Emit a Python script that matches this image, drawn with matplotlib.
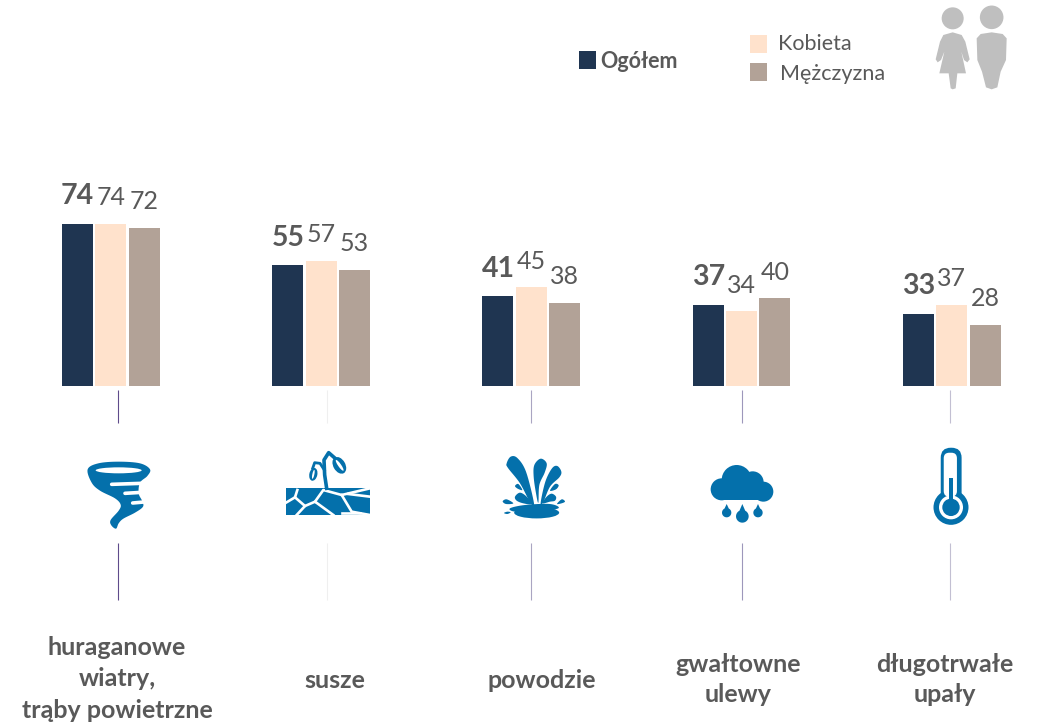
import numpy as np
import matplotlib
matplotlib.use("Agg")
import matplotlib.pyplot as plt
from matplotlib.patches import Polygon, Circle, Ellipse, Rectangle, FancyBboxPatch

plt.rcParams['font.family'] = ['Lato', 'DejaVu Sans']

categories = ["huraganowe\nwiatry,\ntrąby powietrzne", "susze", "powodzie", "gwałtowne\nulewy", "długotrwałe\nupały"]
ogolem = [74, 55, 41, 37, 33]
kobieta = [74, 57, 45, 34, 37]
mezczyzna = [72, 53, 38, 40, 28]

NAVY, PEACH, TAUPE = "#1f3551", "#ffe2cc", "#b2a297"
TXT = "#595959"
BLUE = "#0470ab"
GREY = "#bfbfbf"
W, H = 1038, 724

fig = plt.figure(figsize=(W/100, H/100), dpi=100, facecolor="white")

# --- bars
PITCH = 210.2
C0 = 111.0
PX_UNIT = 2.195
BASE = 386
TOP = 100
ax = fig.add_axes([0, 1-BASE/H, 1, (BASE-TOP)/H])
ax.set_xlim(-C0/PITCH, (W-C0)/PITCH)
ax.set_ylim(0, (BASE-TOP)/PX_UNIT)
ax.axis("off")
x = np.arange(len(categories))
bw, off = 31/PITCH, 33.4/PITCH
for series, dx, col, bold in [(ogolem, -off, NAVY, True), (kobieta, 0, PEACH, False), (mezczyzna, off, TAUPE, False)]:
    ax.bar(x+dx, series, bw, color=col)
    for xi, v in zip(x, series):
        ax.annotate(str(v), (xi+dx, v), xytext=(0, 27.5 if bold else 26), textcoords="offset pixels",
                    ha="center", va="center", color=TXT,
                    fontsize=20.5 if bold else 18, fontweight="bold" if bold else "normal")

# --- overlay in pixel coordinates
ov = fig.add_axes([0, 0, 1, 1], zorder=3)
ov.set_xlim(0, W); ov.set_ylim(H, 0); ov.axis("off"); ov.patch.set_alpha(0)

# connector lines
for lx, col in zip([118.3, 326.5, 531.3, 741.5, 949.5], ["#5f4b8b", "#efefef", "#aaa5c2", "#9d97bb", "#c2bfd2"]):
    ov.plot([lx, lx], [390, 423], color=col, lw=0.8, solid_capstyle="butt")
    ov.plot([lx, lx], [543, 600], color=col, lw=0.8, solid_capstyle="butt")

# category labels
label_xy = [(117, 679), (335, 680), (542, 680), (738, 679.5), (945, 679.5)]
for (lx, ly), c in zip(label_xy, categories):
    lines = c.split("\n")
    for i, s in enumerate(lines):
        ov.text(lx, ly+(i-(len(lines)-1)/2)*(31.5 if len(lines) == 3 else 31), s, ha="center", va="center",
                color=TXT, fontsize=18, fontweight="bold")

# legend
ov.add_patch(Rectangle((579, 51), 17, 18, color=NAVY, lw=0))
ov.add_patch(Rectangle((750, 35), 17, 18, color=PEACH, lw=0))
ov.add_patch(Rectangle((750, 63), 17, 18, color=TAUPE, lw=0))
ov.text(600, 62, "Ogółem", va="center", color=TXT, fontsize=15.5, fontweight="bold")
ov.text(778, 44.5, "Kobieta", va="center", color=TXT, fontsize=15.5)
ov.text(780, 74, "Mężczyzna", va="center", color=TXT, fontsize=15.5)


def smooth(pts, n=8):
    """closed Catmull-Rom outline through the given points"""
    p = np.asarray(pts, float)
    out = []
    for i in range(len(p)):
        p0, p1, p2, p3 = p[i-1], p[i], p[(i+1) % len(p)], p[(i+2) % len(p)]
        for t in np.linspace(0, 1, n, endpoint=False):
            out.append(0.5*((2*p1)+(p2-p0)*t+(2*p0-5*p1+4*p2-p3)*t**2+(3*p1-p0-3*p2+p3)*t**3))
    return np.array(out)


def zmap(ox, oy):
    return lambda pts: np.asarray(pts, float)/3+np.array([ox, oy])


def blob(f, pts, col=BLUE, sm=True):
    q = f(smooth(pts) if sm else pts)
    ov.add_patch(Polygon(q, closed=True, fc=col, ec="none", zorder=4))


# people (zoom crop coordinates)
z = zmap(560, 0)
ov.add_patch(Circle(z([[1178, 55]])[0], 11, color=GREY, lw=0))
ov.add_patch(Circle(z([[1295, 52]])[0], 11.8, color=GREY, lw=0))
blob(z, [(1150, 105), (1178, 97), (1205, 105), (1216, 125), (1229, 178), (1222, 187), (1212, 180), (1204, 155),
         (1218, 220), (1192, 220), (1187, 265), (1178, 268), (1172, 265), (1166, 220), (1138, 220), (1153, 155),
         (1143, 180), (1133, 187), (1127, 178), (1140, 125)], GREY, sm=False)
blob(z, [(1250, 115), (1262, 102), (1295, 97), (1328, 102), (1340, 115), (1338, 180), (1322, 215), (1312, 262),
         (1295, 268), (1278, 262), (1266, 215), (1252, 180)], GREY, sm=False)

# tornado
z = zmap(40, 380)
blob(z, [(143, 268), (175, 250), (236, 245), (300, 250), (330, 268), (322, 288), (300, 308), (296, 340), (306, 362), (309, 380),
         (285, 398), (250, 416), (236, 430), (228, 446), (214, 436), (212, 420), (236, 392), (242, 374), (225, 355),
         (180, 332), (155, 308)])
ov.add_patch(Ellipse(z([[236, 271]])[0], 46, 6, color="white", lw=0, zorder=5))
for a, b in [((215, 313), (305, 310)), ((255, 340), (305, 337)), ((278, 369), (312, 366))]:
    q = z([a, b])
    ov.plot(q[:, 0], q[:, 1], color="white", lw=2.6, solid_capstyle="round", zorder=5)

# drought
z = zmap(40, 380)
p = z([(738, 323)])[0]
ov.add_patch(Rectangle(p, 84, 27.5, color=BLUE, lw=0, zorder=4))
for seg in [[(772, 330), (765, 352), (738, 368)], [(765, 352), (795, 378), (770, 405)],
            [(795, 378), (825, 365), (880, 405)], [(825, 365), (850, 330), (905, 345), (990, 325)],
            [(905, 345), (935, 395), (990, 405)], [(905, 400), (960, 400)], [(925, 342), (990, 350)]]:
    q = z(seg)
    ov.plot(q[:, 0], q[:, 1], color="white", lw=1.9, zorder=5)
stem = z([(860, 325), (854, 285), (852, 240), (866, 218), (882, 232)])
ov.plot(stem[:, 0], stem[:, 1], color=BLUE, lw=2.6, zorder=5, solid_joinstyle="round")
br = z([(853, 270), (840, 250), (824, 248), (818, 265)])
ov.plot(br[:, 0], br[:, 1], color=BLUE, lw=2, zorder=5, solid_joinstyle="round")
ov.add_patch(Ellipse(z([[898, 256]])[0], 12, 18, angle=-30, color=BLUE, lw=0, zorder=5))
ov.add_patch(Ellipse(z([[899, 256]])[0], 3, 13, angle=-35, color="white", lw=0, zorder=6))
ov.add_patch(Ellipse(z([[820, 283]])[0], 8, 13, angle=12, color=BLUE, lw=0, zorder=5))
ov.add_patch(Ellipse(z([[820, 283]])[0], 2, 9, angle=12, color="white", lw=0, zorder=6))

# flood
z = zmap(470, 380)
ov.add_patch(Ellipse(z([[200, 398]])[0], 45, 11.5, color=BLUE, lw=0, zorder=4))
blob(z, [(120, 385), (165, 375), (240, 372), (265, 385), (200, 395), (135, 395)])
blob(z, [(110, 250), (122, 230), (142, 234), (168, 275), (192, 370), (182, 370), (150, 310), (114, 264)])
blob(z, [(193, 255), (212, 236), (230, 250), (224, 278), (208, 315), (205, 368), (198, 340), (191, 290)])
blob(z, [(274, 275), (262, 258), (246, 265), (226, 305), (212, 368), (220, 366), (240, 320), (268, 292)])
blob(z, [(135, 350), (150, 338), (170, 350), (185, 372), (160, 370), (140, 362)])
blob(z, [(258, 350), (245, 341), (230, 350), (217, 370), (240, 365), (255, 362)])
blob(z, [(135, 318), (145, 312), (157, 330), (143, 326)])
blob(z, [(266, 316), (255, 312), (240, 332), (258, 328)])
blob(z, [(98, 364), (110, 358), (130, 370), (108, 372)])
blob(z, [(285, 364), (275, 358), (261, 372), (278, 369)])
blob(z, [(102, 399), (112, 395), (122, 397), (112, 402)])

# rain
z = zmap(470, 380)
for cx, cy, r in [(800, 300, 15), (848, 307, 11), (755, 328, 11), (880, 335, 10)]:
    ov.add_patch(Circle(z([[cx, cy]])[0], r, color=BLUE, lw=0, zorder=4))
ov.add_patch(Rectangle(z([[755, 310]])[0], 42, 16.7, color=BLUE, lw=0, zorder=4))
for cx, cy, r, top in [(770, 398, 14, 372), (817, 409, 19, 372), (864, 398, 14, 372)]:
    ang = np.linspace(-0.35*np.pi, 1.35*np.pi, 30)
    arc = np.c_[cx+r*np.cos(ang), cy+r*np.sin(ang)]
    blob(z, np.vstack([[cx, top], arc]), sm=False)

# thermometer
z = zmap(470, 380)
ov.add_patch(FancyBboxPatch(z([[1423, 214]])[0], 41/3, 170/3, boxstyle="round,pad=3.6,rounding_size=10", fc=BLUE, ec="none", zorder=4))
ov.add_patch(Circle(z([[1443, 382]])[0], 17.5, color=BLUE, lw=0, zorder=4))
ov.add_patch(Circle(z([[1443, 382]])[0], 12, color="white", lw=0, zorder=5))
ov.add_patch(FancyBboxPatch(z([[1432, 229]])[0], 18/3, 110/3, boxstyle="round,pad=3.6,rounding_size=5.5", fc="white", ec="none", zorder=5))
ov.add_patch(Circle(z([[1443, 382]])[0], 8.7, color=BLUE, lw=0, zorder=6))
ov.add_patch(Rectangle(z([[1438, 293]])[0], 3.7, 30, color=BLUE, lw=0, zorder=6))

fig.savefig("out.png", dpi=100)
